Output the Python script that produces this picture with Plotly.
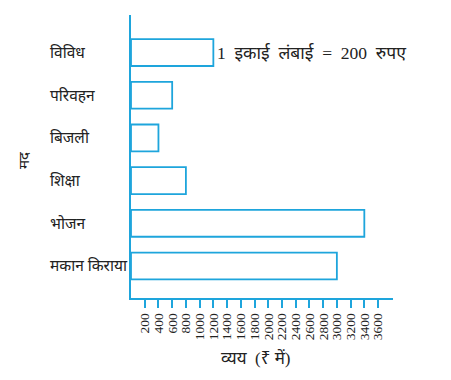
import plotly.graph_objects as go

categories = ["विविध", "परिवहन", "बिजली", "शिक्षा", "भोजन", "मकान किराया"]
values = [1200, 600, 400, 800, 3400, 3000]
tick_values = list(range(200, 3601, 200))
tick_labels = [str(v) for v in tick_values]
x_title = "व्यय  (₹ में)"
y_title = "मद"
note = "1  इकाई  लंबाई  =  200  रुपए"

blue = "#1ea5dc"
serif = "Liberation Serif, Noto Sans, serif"

fig = go.Figure()
fig.add_trace(go.Bar(
    x=values, y=categories, orientation="h",
    width=0.63,
    marker=dict(color="rgba(255,255,255,0)", line=dict(color=blue, width=1.8)),
    showlegend=False,
))

annotations = []
for c in categories:
    annotations.append(dict(
        x=(48 - 131) / 262, xref="paper", y=c, yref="y",
        text=c, showarrow=False, xanchor="left", yanchor="middle",
        font=dict(family=serif, size=15.5, color="#222"),
    ))
annotations.append(dict(
    x=(24 - 131) / 262, xref="paper", y=(298 - 160) / 283, yref="paper",
    text=y_title, showarrow=False, textangle=-90, xanchor="center", yanchor="middle",
    font=dict(family=serif, size=15, color="#222"),
))
annotations.append(dict(
    x=(256 - 131) / 262, xref="paper", y=(298 - 358) / 283, yref="paper",
    text=x_title, showarrow=False, xanchor="center", yanchor="middle",
    font=dict(family=serif, size=17, color="#222"),
))
annotations.append(dict(
    x=1200, xref="x", y=categories[0], yref="y",
    text=note, showarrow=False, xanchor="left", yanchor="middle", xshift=2,
    font=dict(family=serif, size=17.5, color="#222"),
))

fig.update_layout(
    width=451, height=380,
    margin=dict(l=131, r=58, t=15, b=82),
    paper_bgcolor="white", plot_bgcolor="white",
    annotations=annotations,
    xaxis=dict(
        range=[0, 3818], showgrid=False, zeroline=False,
        showline=True, linecolor=blue, linewidth=1.8,
        tickmode="array", tickvals=tick_values, ticktext=tick_labels,
        ticks="outside", ticklen=8, tickwidth=1.5, tickcolor=blue,
        tickangle=-90, tickfont=dict(family=serif, size=13.5, color="#222"),
    ),
    yaxis=dict(
        type="category", categoryorder="array", categoryarray=categories[::-1],
        range=[-0.75, 5.88], showgrid=False, zeroline=False,
        showline=True, linecolor=blue, linewidth=1.8,
        showticklabels=False, ticks="",
    ),
)

fig.write_html("out.html")
